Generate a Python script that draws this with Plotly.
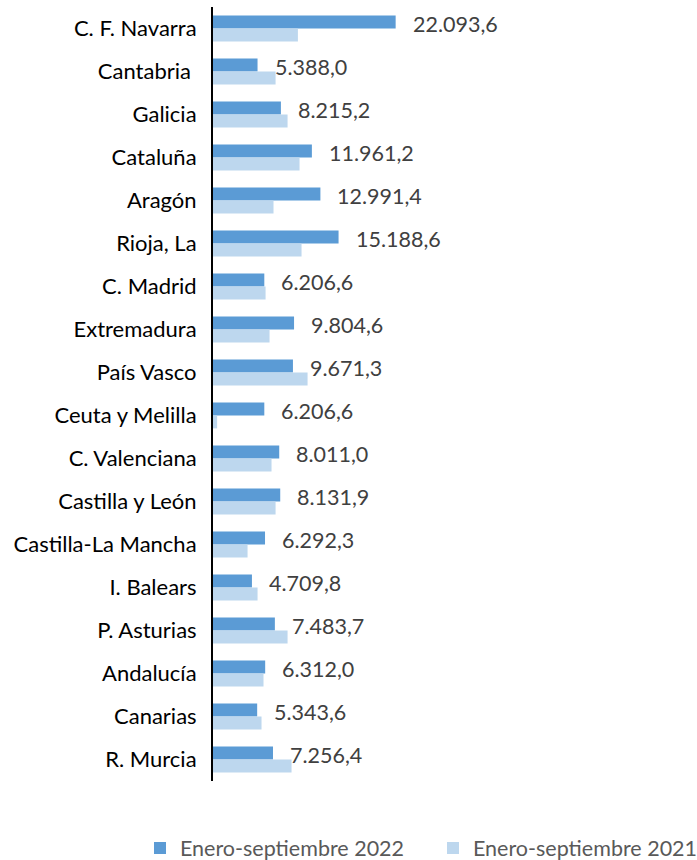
import plotly.graph_objects as go

categories = ["C. F. Navarra", "Cantabria ", "Galicia", "Cataluña", "Aragón", "Rioja, La",
              "C. Madrid", "Extremadura", "País Vasco", "Ceuta y Melilla", "C. Valenciana",
              "Castilla y León", "Castilla-La Mancha", "I. Balears", "P. Asturias",
              "Andalucía", "Canarias", "R. Murcia"]
v2022 = [22093.6, 5388.0, 8215.2, 11961.2, 12991.4, 15188.6, 6206.6, 9804.6, 9671.3,
         6206.6, 8011.0, 8131.9, 6292.3, 4709.8, 7483.7, 6312.0, 5343.6, 7256.4]
v2021 = [10270, 7570, 9020, 10470, 7320, 10710, 6360, 6840, 11440, 500, 7080, 7570,
         4180, 5390, 9020, 6110, 5870, 9500]
labels2022 = ["22.093,6", "5.388,0", "8.215,2", "11.961,2", "12.991,4", "15.188,6", "6.206,6",
              "9.804,6", "9.671,3", "6.206,6", "8.011,0", "8.131,9", "6.292,3", "4.709,8",
              "7.483,7", "6.312,0", "5.343,6", "7.256,4"]
series_names = ["Enero-septiembre 2022", "Enero-septiembre 2021"]

FONT = "Lato"
fig = go.Figure()
fig.add_trace(go.Bar(y=categories, x=v2022, orientation="h", name=series_names[0],
                     marker=dict(color="#5B9BD5", line=dict(width=0)), legend="legend"))
fig.add_trace(go.Bar(y=categories, x=v2021, orientation="h", name=series_names[1],
                     marker=dict(color="#BDD7EE", line=dict(width=0)), legend="legend2"))

for c, v, t in zip(categories, v2022, labels2022):
    fig.add_annotation(x=v, y=c, text=t, showarrow=False, xanchor="left", yanchor="middle",
                       xshift=15, yshift=5, font=dict(family=FONT, size=21.5, color="#404040"))

legfont = dict(family=FONT, size=21.5, color="#595959")
fig.update_layout(
    width=697, height=860,
    margin=dict(l=213, r=7, t=7, b=79, autoexpand=False),
    paper_bgcolor="white", plot_bgcolor="white",
    barmode="group", bargap=0.4, bargroupgap=0,
    font=dict(family=FONT, size=22, color="#000000"),
    showlegend=True,
    legend=dict(orientation="h", xref="container", yref="container",
                x=140/697, xanchor="left", y=12/860, yanchor="middle", font=legfont),
    legend2=dict(orientation="h", xref="container", yref="container",
                 x=433/697, xanchor="left", y=12/860, yanchor="middle", font=legfont),
)
fig.update_xaxes(range=[0, 57700], showgrid=False, zeroline=False, showticklabels=False,
                 showline=False)
fig.update_yaxes(autorange="reversed", showgrid=False, zeroline=False, showline=True,
                 linecolor="#000000", linewidth=2, ticks="", ticklabelstandoff=10,
                 automargin=False,
                 tickfont=dict(family=FONT, size=22, color="#000000"))

fig.write_html("out.html", config={"displayModeBar": False},
               post_script="document.body.style.margin='0';")
